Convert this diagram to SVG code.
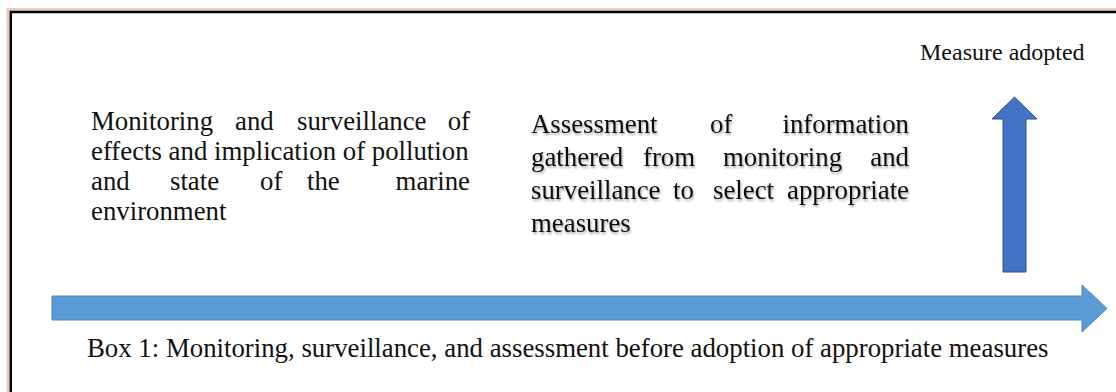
<svg xmlns="http://www.w3.org/2000/svg" width="1116" height="392" viewBox="0 0 1116 392">
  <style>
    .txt { font-family: "Liberation Serif", "Times New Roman", serif; fill: #111; }
    .body { font-size: 26.8px; }
    .small { font-size: 24px; }
    .cap { font-size: 26.8px; }
  </style>
  <defs>
    <filter id="soft" x="-5%" y="-20%" width="110%" height="140%">
      <feGaussianBlur in="SourceAlpha" stdDeviation="1.2"/>
      <feOffset dx="1" dy="1.5" result="b"/>
      <feComponentTransfer><feFuncA type="linear" slope="0.35"/></feComponentTransfer>
      <feMerge><feMergeNode/><feMergeNode in="SourceGraphic"/></feMerge>
    </filter>
  </defs>

  <rect width="1116" height="392" fill="#ffffff"/>

  <!-- frame: outer tan rule and inner black rule (top and left only) -->
  <g id="frame" fill="none">
    <path d="M8 392 V9.5 H1116" stroke="#ecc7ad" stroke-width="2.5"/>
    <path d="M10.8 392 V12 H1116" stroke="#000" stroke-width="2.5"/>
  </g>

  <g id="connectors">
    <!-- timeline arrow -->
    <path d="M52 296 H1082 V285 L1107 308.5 L1082 332 V320 H52 Z" fill="#5b9bd5" stroke="#4d86bd" stroke-width="1"/>
    <!-- upward arrow -->
    <path d="M1003 272 V119 H992 L1014.5 97 L1037 119 H1026 V272 Z" fill="#4472c4" stroke="#2f528f" stroke-width="1"/>
  </g>

  <g id="node-monitoring" class="txt body">
    <text y="130"><tspan x="91">Monitoring</tspan><tspan x="235">and</tspan><tspan x="297">surveillance</tspan><tspan x="470" text-anchor="end">of</tspan></text>
    <text y="160"><tspan x="91">effects and implication of pollution</tspan></text>
    <text y="190"><tspan x="91">and</tspan><tspan x="170">state</tspan><tspan x="260">of</tspan><tspan x="307">the</tspan><tspan x="470" text-anchor="end">marine</tspan></text>
    <text y="220"><tspan x="91">environment</tspan></text>
  </g>

  <g id="node-assessment" class="txt body" filter="url(#soft)">
    <text y="133"><tspan x="531">Assessment</tspan><tspan x="710">of</tspan><tspan x="909" text-anchor="end">information</tspan></text>
    <text y="166"><tspan x="531">gathered</tspan><tspan x="643">from</tspan><tspan x="723">monitoring</tspan><tspan x="909" text-anchor="end">and</tspan></text>
    <text y="199"><tspan x="531">surveillance</tspan><tspan x="673">to</tspan><tspan x="713">select</tspan><tspan x="909" text-anchor="end">appropriate</tspan></text>
    <text y="232"><tspan x="531">measures</tspan></text>
  </g>

  <g id="node-measure" class="txt small">
    <text x="920" y="60">Measure adopted</text>
  </g>

  <g id="caption" class="txt cap">
    <text x="87" y="357">Box 1: Monitoring, surveillance, and assessment before adoption of appropriate measures</text>
  </g>
</svg>
